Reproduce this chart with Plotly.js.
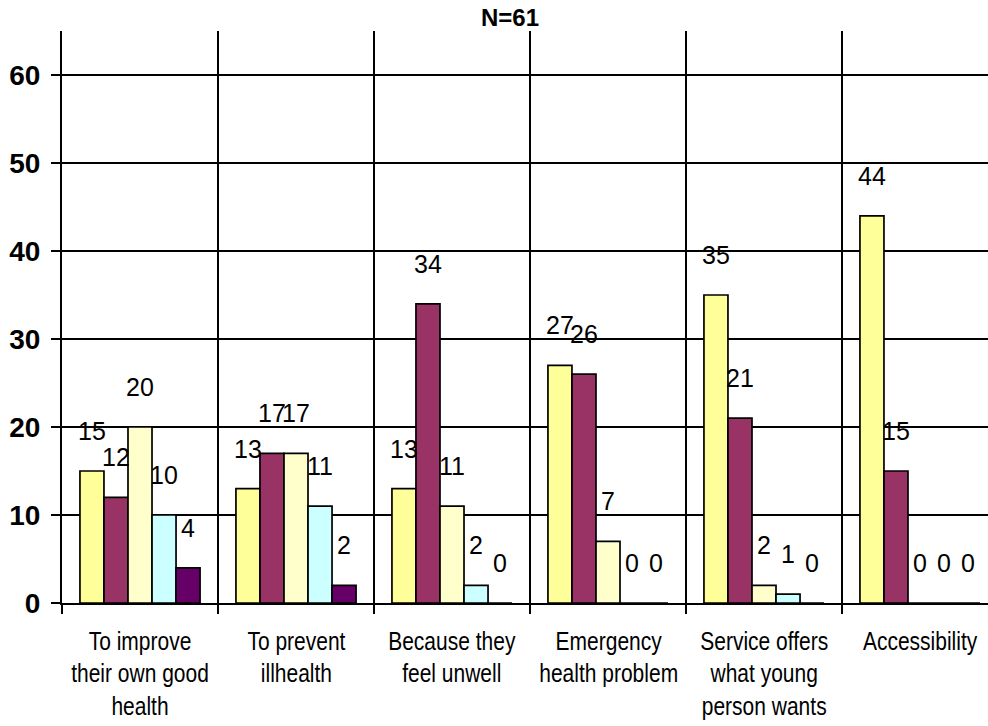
<!DOCTYPE html>
<html>
<head>
<meta charset="utf-8">
<script src="https://cdn.plot.ly/plotly-3.0.1.min.js"></script>
<style>
  html, body { margin: 0; padding: 0; background: #fff; }
  #chart { width: 988px; height: 726px; }
  /* narrow look for the category names */
  .cat-label { transform-box: fill-box; transform-origin: center; transform: scaleX(0.84); }
</style>
</head>
<body>
<div id="chart"></div>
<script>
// Reasons given for using the service (N=61), five response series per reason
const categories = [
  'To improve<br>their own good<br>health',
  'To prevent<br>illhealth',
  'Because they<br>feel unwell',
  'Emergency<br>health problem',
  'Service offers<br>what young<br>person wants',
  'Accessibility'
];
const series1 = [15, 13, 13, 27, 35, 44];
const series2 = [12, 17, 34, 26, 21, 15];
const series3 = [20, 17, 11, 7, 2, 0];
const series4 = [10, 11, 2, 0, 1, 0];
const series5 = [4, 2, 0, 0, 0, 0];
const seriesNames = ['Series 1', 'Series 2', 'Series 3', 'Series 4', 'Series 5'];
const yTicks = [0, 10, 20, 30, 40, 50, 60];

const allSeries = [series1, series2, series3, series4, series5];
const colors = ['#FFFF99', '#993366', '#FFFFCC', '#CCFFFF', '#660066'];
const BARGAP = 0.23;
const barW = (1 - BARGAP) / allSeries.length;
const xIdx = categories.map((_, i) => i);

const traces = allSeries.map((vals, s) => ({
  type: 'bar',
  name: seriesNames[s],
  x: xIdx,
  y: vals,
  marker: { color: colors[s], line: { color: '#000', width: 1.7 } },
  hoverinfo: 'y'
}));

const labelFont = { family: 'Liberation Sans, Arial, sans-serif', size: 25, color: '#000' };
const annotations = [];
// value labels above each bar
allSeries.forEach((vals, s) => {
  vals.forEach((v, c) => {
    annotations.push({
      x: c + (s - (allSeries.length - 1) / 2) * barW,
      y: v,
      xref: 'x', yref: 'y',
      text: String(v),
      showarrow: false,
      yanchor: 'middle',
      yshift: 40,
      font: labelFont
    });
  });
});
// category names beneath the axis
const firstCatAnn = annotations.length;
categories.forEach((t, c) => {
  annotations.push({
    x: c, y: 0, xref: 'x', yref: 'paper',
    text: t, showarrow: false,
    yanchor: 'top', yshift: -22,
    font: { family: 'Liberation Sans, Arial, sans-serif', size: 25, color: '#000' }
  });
});

const boundaries = categories.map((_, i) => i - 0.5).concat([categories.length - 0.5]);

const layout = {
  width: 988,
  height: 726,
  margin: { l: 62, r: 0, t: 31, b: 123 },
  paper_bgcolor: '#fff',
  plot_bgcolor: '#fff',
  showlegend: false,
  barmode: 'group',
  bargap: BARGAP,
  bargroupgap: 0,
  title: {
    text: '<b>N=61</b>',
    font: { family: 'Liberation Sans, Arial, sans-serif', size: 24, color: '#000' },
    x: 510 / 988, xanchor: 'center', xref: 'container',
    y: 1 - 18 / 726, yanchor: 'middle', yref: 'container'
  },
  xaxis: {
    type: 'linear',
    range: [-0.5, -0.5 + 926 / 156],
    tickvals: boundaries,
    ticktext: boundaries.map(() => ''),
    showgrid: true, gridcolor: '#000', gridwidth: 2,
    ticks: 'outside', ticklen: 9, tickwidth: 2, tickcolor: '#000',
    showline: true, linecolor: '#000', linewidth: 2,
    zeroline: false, fixedrange: true
  },
  yaxis: {
    range: [0, 65],
    tickvals: yTicks,
    ticktext: yTicks.map(String),
    tickfont: { family: 'Liberation Sans, Arial, sans-serif', size: 28, color: '#000', weight: 'bold' },
    ticklabelstandoff: 5,
    showgrid: true, gridcolor: '#000', gridwidth: 2,
    ticks: 'outside', ticklen: 9, tickwidth: 2, tickcolor: '#000',
    showline: true, linecolor: '#000', linewidth: 2,
    zeroline: false, fixedrange: true
  },
  annotations: annotations
};

Plotly.newPlot('chart', traces, layout, { displayModeBar: false, staticPlot: true }).then(gd => {
  // condense the category names horizontally
  for (let k = firstCatAnn; k < annotations.length; k++) {
    const txt = gd.querySelector('g.annotation[data-index="' + k + '"] text.annotation-text');
    if (txt) txt.classList.add('cat-label');
  }
});
</script>
</body>
</html>
